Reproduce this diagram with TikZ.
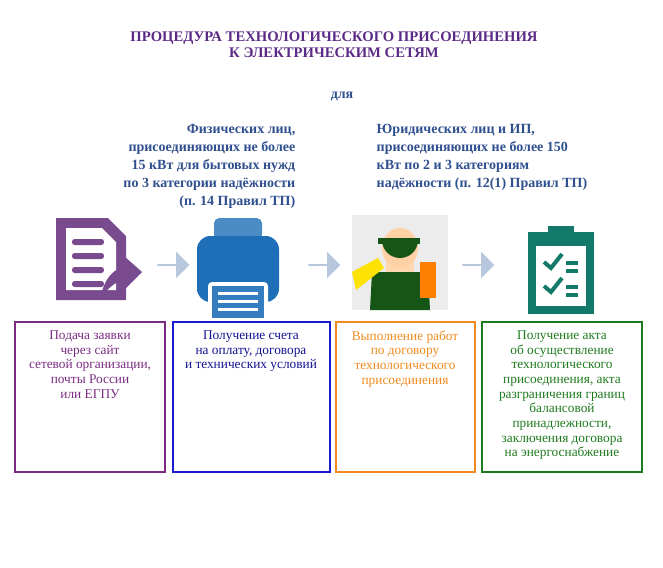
\documentclass[tikz,border=0pt]{standalone}
\usepackage{fontspec}
\setmainfont{Liberation Serif}
\usetikzlibrary{positioning,shapes.arrows}
\definecolor{titlec}{HTML}{5B2A86}
\definecolor{headc}{HTML}{2F4F8F}
\definecolor{violetc}{HTML}{7B2C82}
\definecolor{bluec}{HTML}{1A1AD0}
\definecolor{orangec}{HTML}{F08A1E}
\definecolor{greenc}{HTML}{1E7A1E}
\definecolor{docc}{HTML}{7A4A8E}
\definecolor{printc}{HTML}{1F6FB8}
\definecolor{tealc}{HTML}{137A6A}
\definecolor{arrc}{HTML}{B7C7DE}
\tikzset{x=0.75pt, y=-0.75pt, font=\fontsize{10}{11}\selectfont}
\tikzstyle{stepbox} = [line width=1.5pt]
\tikzstyle{steptext} = [anchor=north, align=center]
\tikzstyle{head} = [font=\fontsize{10.5}{13.5}\selectfont\bfseries, text=headc]
\tikzstyle{flow} = [single arrow, fill=arrc, minimum height=24pt, minimum width=20pt, single arrow head extend=3pt, inner sep=0pt]

\begin{document}
\begin{tikzpicture}
    \useasboundingbox (0,0) rectangle (663,567);
    \node [font=\fontsize{11}{12}\selectfont\bfseries, text=titlec, align=center] (title) at (334,45) {ПРОЦЕДУРА ТЕХНОЛОГИЧЕСКОГО ПРИСОЕДИНЕНИЯ\\К ЭЛЕКТРИЧЕСКИМ СЕТЯМ};
    \node [head] (for) at (342,97) {для};
    \node [head, align=right, anchor=north east] (phys) at (300,120) {Физических лиц,\\присоединяющих не более\\15 кВт для бытовых нужд\\по 3 категории надёжности\\(п. 14 Правил ТП)};
    \node [head, align=left, anchor=north west] (legal) at (372,120) {Юридических лиц и ИП,\\присоединяющих не более 150\\кВт по 2 и 3 категориям\\надёжности (п. 12(1) Правил ТП)};

    % icons
    \fill [docc] (56,218) -- (108,218) -- (126,236) -- (126,300) -- (56,300) -- cycle;
    \fill [white] (66,228) -- (102,228) -- (116,242) -- (116,290) -- (66,290) -- cycle;
    \foreach \y in {242,256,270,284} \fill [docc, rounded corners=2pt] (72,\y-3) rectangle (104,\y+3);
    \fill [docc] (100,300) .. controls (104,276) and (116,268) .. (126,266) -- (124,256) -- (142,272) -- (124,290) -- (124,280) .. controls (114,282) and (106,290) .. (100,300);
    \fill [printc!80, rounded corners=4pt] (214,218) rectangle (262,240);
    \fill [printc, rounded corners=10pt] (197,236) rectangle (279,302);
    \fill [white, rounded corners=3pt] (208,282) rectangle (268,320);
    \fill [printc!90] (212,286) rectangle (264,318);
    \foreach \y in {294,302,310} \fill [white] (218,\y-2) rectangle (258,\y+1);
    \node [text=white, font=\fontsize{15}{15}\sffamily\bfseries] (bill) at (238,260) {СЧЕТ};
    \fill [gray!15] (352,215) rectangle (448,310);
    \fill [greenc!70!black] (370,310) -- (372,272) -- (428,272) -- (430,310) -- cycle;
    \fill [orange!30!white] (386,256) rectangle (414,272);
    \fill [orange!35!white] (400,248) ellipse (18 and 20);
    \fill [greenc!70!black] (382,240) arc (180:0:18) -- (382,240);
    \fill [greenc!70!black] (378,238) rectangle (420,244);
    \fill [yellow!85!orange] (352,272) -- (378,258) -- (384,268) -- (356,290) -- cycle;
    \fill [orange] (420,262) rectangle (436,298);
    \fill [tealc] (528,232) rectangle (594,314);
    \fill [white] (536,246) rectangle (586,306);
    \fill [tealc] (548,226) rectangle (574,240);
    \foreach \y in {268,292} {
        \draw [tealc, line width=3pt] (544,\y-6) -- (551,\y) -- (562,\y-14);
        \fill [tealc] (566,\y-7) rectangle (578,\y-3);
        \fill [tealc] (566,\y+1) rectangle (578,\y+5);
    }

    % arrows
    \node [flow] (a1) at (173,265) {};
    \node [flow] (a2) at (324,265) {};
    \node [flow] (a3) at (478,265) {};

    % steps
    \draw [stepbox, violetc] (15,322) rectangle (165,472);
    \draw [stepbox, bluec] (173,322) rectangle (330,472);
    \draw [stepbox, orangec] (336,322) rectangle (475,472);
    \draw [stepbox, greenc] (482,322) rectangle (642,472);
    \node [steptext, text=violetc] (t1) at (90,326) {Подача заявки\\через сайт\\сетевой организации,\\почты России\\или ЕГПУ};
    \node [steptext, text=bluec!70!black] (t2) at (251,326) {Получение счета\\на оплату, договора\\и технических условий};
    \node [steptext, text=orangec] (t3) at (405,326) {Выполнение работ\\по договору\\технологического\\присоединения};
    \node [steptext, text=greenc] (t4) at (562,326) {Получение акта\\об осуществление\\технологического\\присоединения, акта\\разграничения границ\\балансовой\\принадлежности,\\заключения договора\\на энергоснабжение};
\end{tikzpicture}
\end{document}
